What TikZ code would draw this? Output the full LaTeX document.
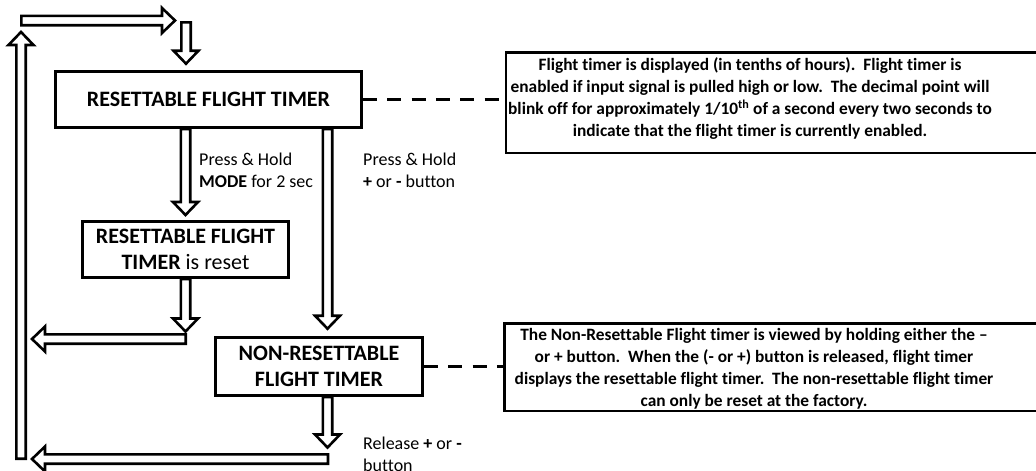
\documentclass[tikz,border=0pt]{standalone}
\usepackage{fontspec}
\setmainfont{Carlito}[Ligatures=NoCommon]
\usetikzlibrary{calc}
\newcommand\BlkDown[2]{\draw[blk] let \p1=(#1), \p2=(#2) in (\x1-4.7,\y1) -- (\x1-4.7,\y2+13) -- (\x1-12.5,\y2+13) -- (\x1,\y2) -- (\x1+12.5,\y2+13) -- (\x1+4.7,\y2+13) -- (\x1+4.7,\y1) -- cycle;}
\newcommand\BlkUp[2]{\draw[blk] let \p1=(#1), \p2=(#2) in (\x1-4.7,\y1) -- (\x1-4.7,\y2-13) -- (\x1-12.5,\y2-13) -- (\x1,\y2) -- (\x1+12.5,\y2-13) -- (\x1+4.7,\y2-13) -- (\x1+4.7,\y1) -- cycle;}
\newcommand\BlkLeft[2]{\draw[blk] let \p1=(#1), \p2=(#2) in (\x1,\y1-4.7) -- (\x2+13,\y1-4.7) -- (\x2+13,\y1-12.5) -- (\x2,\y1) -- (\x2+13,\y1+12.5) -- (\x2+13,\y1+4.7) -- (\x1,\y1+4.7) -- cycle;}
\newcommand\BlkRight[2]{\draw[blk] let \p1=(#1), \p2=(#2) in (\x1,\y1-4.7) -- (\x2-13,\y1-4.7) -- (\x2-13,\y1-12.5) -- (\x2,\y1) -- (\x2-13,\y1+12.5) -- (\x2-13,\y1+4.7) -- (\x1,\y1+4.7) -- cycle;}
\begin{document}
\begin{tikzpicture}[x=1pt,y=-1pt,
  blk/.style={draw=black, line width=2.6pt, fill=white, line join=miter},
  box/.style={draw=black, line width=2.6pt, fill=white, inner sep=0pt, align=center},
  boxfont/.style={font=\bfseries\fontsize{22}{25.5}\selectfont},
  frame/.style={draw=black, line width=2.6pt, inner sep=0pt, anchor=north west, minimum width=580},
  note/.style={align=center, inner sep=0pt, font=\bfseries\fontsize{17.35}{22}\selectfont},
  lbl/.style={align=left, anchor=north west, inner sep=0pt, font=\fontsize{18}{22}\selectfont},
  dashline/.style={line width=3.5pt, dash pattern=on 14pt off 10.3pt}]
\useasboundingbox (0,0) rectangle (1036,471);
\fill[white] (0,0) rectangle (1036,471);

% boxes
\node[box, boxfont, minimum width=306.4, minimum height=56.4] (b1) at (208.5,99.5) {RESETTABLE FLIGHT TIMER};
\node[box, boxfont, minimum width=206.4, minimum height=56.4] (b2) at (185.5,249.5) {RESETTABLE FLIGHT\\TIMER {\normalfont is reset}};
\node[box, boxfont, minimum width=207.4, minimum height=58.4] (b4) at (319,366.5) {NON-RESETTABLE\\FLIGHT TIMER};

% note frames and texts
\node[frame, minimum height=100.4] (f1) at (504.5,51.3) {};
\node[frame, minimum height=87.7] (f2) at (503.3,322) {};
\node[note] (n1) at (750,98.5) {Flight timer is displayed (in tenths of hours).\ \ Flight timer is\\enabled if input signal is pulled high or low.\ \ The decimal point will\\blink off for approximately 1/10\textsuperscript{th} of a second every two seconds to\\indicate that the flight timer is currently enabled.};
\node[note] (n2) at (754,369) {The Non-Resettable Flight timer is viewed by holding either the --\\or + button.\ \ When the (- or +) button is released, flight timer\\displays the resettable flight timer.\ \ The non-resettable flight timer\\can only be reset at the factory.};

% dashed connectors
\draw[dashline] (b1.east) -- (b1.east -| f1.west);
\draw[dashline] (b4.east) -- (b4.east -| f2.west);

% loop coordinates
\coordinate (c1) at (21,458.7);
\coordinate (c2) at (21,32);
\coordinate (c3) at (21.3,20.5);
\coordinate (c4) at (175,20.5);
\coordinate (c5) at (186,22.3);
\coordinate (c6) at ($(b2.south)+(0,52.5)$);
\coordinate (c7) at (185.7,339);
\coordinate (c8) at (32,339);
\coordinate (c9) at ($(b4.south)+(8.5,0)$);
\coordinate (c10) at ($(b4.south)+(8.5,50.5)$);
\coordinate (c11) at (328,459);
\coordinate (c12) at (32,459);

% block arrows
\BlkUp{c1}{c2}
\BlkRight{c3}{c4}
\BlkDown{c5}{$(b1.north -| c5)+(0,-6.3)$}
\BlkDown{b2.north |- b1.south}{$(b2.north)+(0,-5)$}
\BlkDown{$(b1.south -| b4.north)+(8.5,0)$}{$(b4.north)+(8.5,-7.3)$}
\BlkDown{b2.south}{c6}
\BlkLeft{c7}{c8}
\BlkDown{c9}{c10}
\BlkLeft{c11}{c12}

% labels
\node[lbl] (l1) at (199,153) {Press \& Hold\\\textbf{MODE} for 2 sec};
\node[lbl] (l2) at (363,153) {Press \& Hold\\\textbf{+} or \textbf{-} button};
\node[lbl] (l3) at (363,437) {Release \textbf{+} or \textbf{-}\\button};
\end{tikzpicture}
\end{document}
